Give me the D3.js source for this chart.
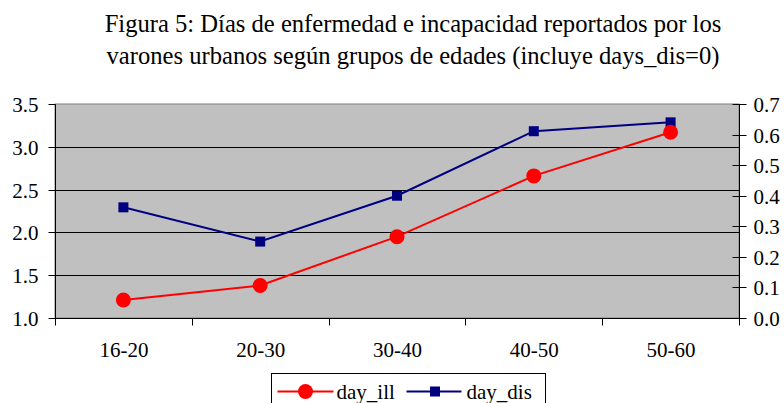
<!DOCTYPE html>
<html lang="es">
<head>
<meta charset="UTF-8">
<script src="https://cdn.jsdelivr.net/npm/d3@7"></script>
<style>
  body { margin: 0; background: #fff; }
  svg { display: block; font-family: "Liberation Serif", "Times New Roman", serif; }
  .lbl { font-size: 21px; fill: #000; }
</style>
</head>
<body>
<script>
// datos
var grupos = ["16-20", "20-30", "30-40", "40-50", "50-60"];
var dayIll = [1.21, 1.38, 1.95, 2.66, 3.17];   // eje izquierdo
var dayDis = [0.362, 0.250, 0.400, 0.611, 0.640]; // eje derecho
var ticksIzq = [1.0, 1.5, 2.0, 2.5, 3.0, 3.5];
var ticksDer = [0.0, 0.1, 0.2, 0.3, 0.4, 0.5, 0.6, 0.7];
var titulo = ["Figura 5: Días de enfermedad e incapacidad reportados por los",
              "varones urbanos según grupos de edades (incluye days_dis=0)"];

var W = 784, H = 403,
    pLeft = 55, pRight = 739, pTop = 104, pBottom = 318;

var svg = d3.select("body").append("svg").attr("width", W).attr("height", H);

var x = d3.scaleBand().domain(grupos).range([pLeft, pRight]);
var yL = d3.scaleLinear().domain([1.0, 3.5]).range([pBottom, pTop]);
var yR = d3.scaleLinear().domain([0, 0.7]).range([pBottom, pTop]);

// titulo
svg.selectAll(".tit").data(titulo).enter().append("text")
  .attr("x", 413).attr("y", function(d, i) { return 32 + i * 32; })
  .attr("text-anchor", "middle").style("font-size", "24.6px").text(function(d) { return d; });

// area del grafico
svg.append("rect").attr("x", pLeft).attr("y", pTop)
  .attr("width", pRight - pLeft).attr("height", pBottom - pTop)
  .attr("fill", "#c0c0c0").attr("stroke", "#808080");

// lineas de cuadricula
svg.selectAll(".grid").data(ticksIzq.slice(1, -1)).enter().append("line")
  .attr("x1", pLeft).attr("x2", pRight)
  .attr("y1", function(d) { return Math.round(yL(d)) + 0.5; })
  .attr("y2", function(d) { return Math.round(yL(d)) + 0.5; })
  .attr("stroke", "#000").attr("stroke-width", 1);

// eje izquierdo
var gL = svg.append("g").attr("transform", "translate(" + (pLeft + 0.5) + ",0.5)");
gL.append("line").attr("y1", pTop).attr("y2", pBottom).attr("stroke", "#000");
gL.selectAll(".t").data(ticksIzq).enter().append("line")
  .attr("x1", -7).attr("x2", 0)
  .attr("y1", function(d) { return Math.round(yL(d)); })
  .attr("y2", function(d) { return Math.round(yL(d)); }).attr("stroke", "#000");
gL.selectAll(".l").data(ticksIzq).enter().append("text").attr("class", "lbl")
  .attr("x", -17).attr("y", function(d) { return yL(d) + 7.5; })
  .attr("text-anchor", "end").text(function(d) { return d.toFixed(1); });

// eje derecho
var gR = svg.append("g").attr("transform", "translate(" + (pRight + 0.5) + ",0.5)");
gR.append("line").attr("y1", pTop).attr("y2", pBottom).attr("stroke", "#000");
gR.selectAll(".t").data(ticksDer).enter().append("line")
  .attr("x1", -7).attr("x2", 7)
  .attr("y1", function(d) { return Math.round(yR(d)); })
  .attr("y2", function(d) { return Math.round(yR(d)); }).attr("stroke", "#000");
gR.selectAll(".l").data(ticksDer).enter().append("text").attr("class", "lbl")
  .attr("x", 14).attr("y", function(d) { return yR(d) + 7.5; })
  .text(function(d) { return d.toFixed(1); });

// eje x
var gX = svg.append("g").attr("transform", "translate(0.5," + (pBottom + 0.5) + ")");
gX.append("line").attr("x1", pLeft).attr("x2", pRight).attr("stroke", "#000");
var bordes = grupos.map(function(d) { return x(d); }).concat([pRight]);
gX.selectAll(".t").data(bordes).enter().append("line")
  .attr("x1", function(d) { return Math.round(d); }).attr("x2", function(d) { return Math.round(d); })
  .attr("y1", 0).attr("y2", 7).attr("stroke", "#000");
gX.selectAll(".l").data(grupos).enter().append("text").attr("class", "lbl")
  .attr("x", function(d) { return x(d) + x.bandwidth() / 2; }).attr("y", 38)
  .attr("text-anchor", "middle").text(function(d) { return d; });

var cx = function(d, i) { return x(grupos[i]) + x.bandwidth() / 2; };

// day_dis (azul, cuadrados)
svg.append("path").datum(dayDis)
  .attr("d", d3.line().x(cx).y(function(d) { return yR(d); }))
  .attr("fill", "none").attr("stroke", "#000080").attr("stroke-width", 2);
svg.selectAll(".sq").data(dayDis).enter().append("rect")
  .attr("x", function(d, i) { return cx(d, i) - 5; })
  .attr("y", function(d) { return yR(d) - 5; })
  .attr("width", 10).attr("height", 10).attr("fill", "#000080");

// day_ill (rojo, circulos)
svg.append("path").datum(dayIll)
  .attr("d", d3.line().x(cx).y(function(d) { return yL(d); }))
  .attr("fill", "none").attr("stroke", "#ff0000").attr("stroke-width", 2);
svg.selectAll(".ci").data(dayIll).enter().append("circle")
  .attr("cx", cx).attr("cy", function(d) { return yL(d); })
  .attr("r", 7.5).attr("fill", "#ff0000");

// leyenda
var lg = svg.append("g").attr("transform", "translate(271.5,373.5)");
lg.append("rect").attr("width", 274).attr("height", 40)
  .attr("fill", "#fff").attr("stroke", "#000");
lg.append("line").attr("x1", 6).attr("x2", 62).attr("y1", 18).attr("y2", 18)
  .attr("stroke", "#ff0000").attr("stroke-width", 2);
lg.append("circle").attr("cx", 34).attr("cy", 18).attr("r", 7.5).attr("fill", "#ff0000");
lg.append("text").attr("class", "lbl").attr("x", 65).attr("y", 25).text("day_ill");
lg.append("line").attr("x1", 135).attr("x2", 190).attr("y1", 18).attr("y2", 18)
  .attr("stroke", "#000080").attr("stroke-width", 2);
lg.append("rect").attr("x", 158.5).attr("y", 13).attr("width", 10).attr("height", 10).attr("fill", "#000080");
lg.append("text").attr("class", "lbl").attr("x", 195).attr("y", 25).text("day_dis");
</script>
</body>
</html>
